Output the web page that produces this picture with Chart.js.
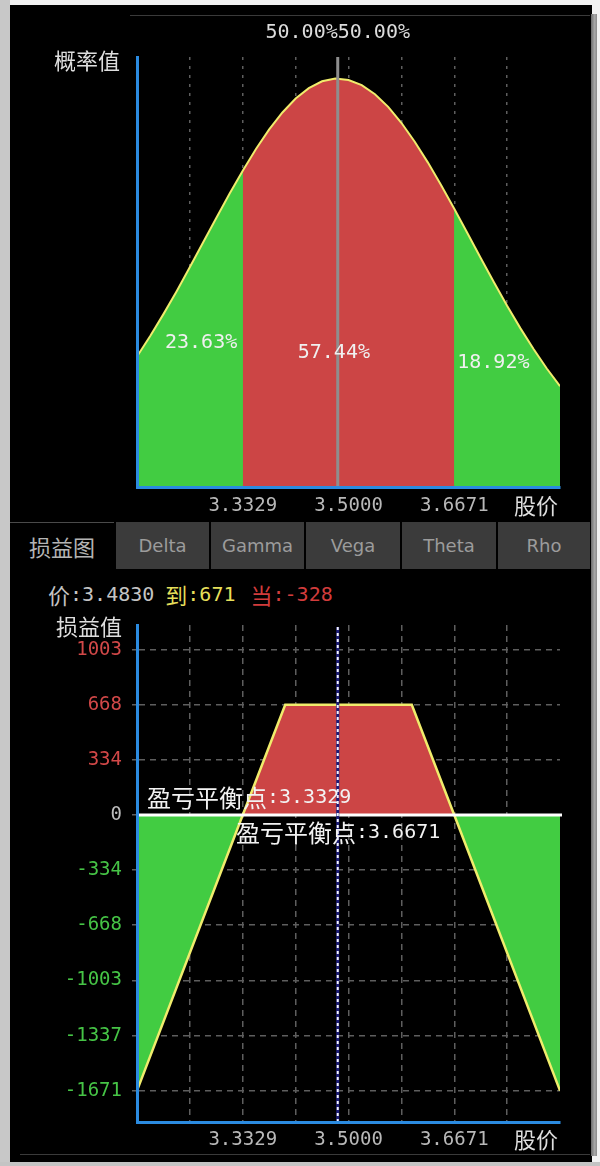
<!DOCTYPE html>
<html>
<head>
<meta charset="utf-8">
<script src="https://cdn.jsdelivr.net/npm/chart.js@4.4.1/dist/chart.umd.min.js"></script>
<style>
  html, body { margin: 0; padding: 0; background: #f2f2f2; }
  #page { position: relative; width: 600px; height: 1166px; overflow: hidden; background: #f2f2f2; }
  .abs { position: absolute; }
  #leftStrip { left: 0; top: 0; width: 10px; height: 1166px; background: #c8c8c8; }
  #bottomStrip { left: 0; top: 1162px; width: 600px; height: 4px; background: #c4c4c4; }
  #panel { left: 10px; top: 5px; width: 582px; height: 1157px; background: #000; }
  #rightBar { left: 591px; top: 14px; width: 6px; height: 1142px; background: linear-gradient(to right, #6c6c6c, #a8a8a8 60%, #8a8a8a); }
  #topLine { left: 130px; top: 15px; width: 460px; height: 1px; background: #3a3a3a; }
  #botLine { left: 20px; top: 1154px; width: 570px; height: 1px; background: #3a3a3a; }
  canvas { position: absolute; }
  #probChart { left: 10px; top: 5px; }
  #pnlChart { left: 10px; top: 600px; }
  .tab { position: absolute; top: 522px; height: 47px; line-height: 47px; text-align: center;
         background: #3b3b3b; color: #9c9c9c; font-family: "DejaVu Sans", sans-serif; font-size: 18px; }
  .tab.active { background: #000; color: #b4b4b4; font-family: "Noto Sans CJK SC", sans-serif; font-size: 22px; border-top: 1px solid #4a4a4a; height: 46px; line-height: 46px; }
  #info { left: 48px; top: 578px; height: 30px; line-height: 30px; white-space: nowrap; }
  #info span { display: inline-block; vertical-align: middle; }
  .cjk { font-family: "Noto Sans CJK SC", sans-serif; font-size: 22px; }
  .mono { font-family: "DejaVu Sans Mono", monospace; font-size: 20px; }
</style>
</head>
<body>
<div id="page">
  <div id="panel" class="abs"></div>
  <div id="leftStrip" class="abs"></div>
  <div id="bottomStrip" class="abs"></div>
  <div id="rightBar" class="abs"></div>
  <div id="topLine" class="abs"></div>
  <div id="botLine" class="abs"></div>
  <canvas id="probChart" width="582" height="515"></canvas>
  <div id="tabs"></div>
  <div id="info" class="abs"></div>
  <canvas id="pnlChart" width="582" height="560"></canvas>
</div>
<script>
// ---------------- data ----------------
const priceGrid = [3.1658, 3.2494, 3.3329, 3.4165, 3.5000, 3.5835, 3.6671, 3.7506, 3.8342];
const priceTickLabels = ['', '', '3.3329', '', '3.5000', '', '3.6671', '', ''];

const densityPrice = [3.1658, 3.1867, 3.2076, 3.2285, 3.2494, 3.2702, 3.2911, 3.3120, 3.3329,
  3.3538, 3.3747, 3.3956, 3.4165, 3.4373, 3.4582, 3.4791, 3.5000, 3.5209, 3.5418, 3.5627,
  3.5835, 3.6044, 3.6253, 3.6462, 3.6671, 3.6880, 3.7089, 3.7298, 3.7506, 3.7715, 3.7924,
  3.8133, 3.8342];
const densityValue = [0.607, 0.702, 0.804, 0.911, 1.023, 1.137, 1.251, 1.364, 1.471,
  1.572, 1.663, 1.742, 1.807, 1.855, 1.887, 1.900, 1.893, 1.869, 1.827, 1.768,
  1.694, 1.607, 1.510, 1.405, 1.294, 1.180, 1.065, 0.952, 0.843, 0.739, 0.642,
  0.551, 0.469];

const breakEvenLow = 3.3329;
const breakEvenHigh = 3.6671;
const currentPrice = 3.4830;
const zoneShares = ['23.63%', '57.44%', '18.92%'];
const sideShares = ['50.00%', '50.00%'];

const pnlPrice = [3.1658, 3.3329, 3.4000, 3.6000, 3.6671, 3.8342];
const pnlValue = [-1671, 0, 668, 668, 0, -1671];
const pnlTicks = [-1671, -1337, -1003, -668, -334, 0, 334, 668, 1003];
const pnlTickLabels = ['-1671', '-1337', '-1003', '-668', '-334', '0', '334', '668', '1003'];
const expiryPnl = 671;
const currentPnl = -328;

const tabNames = ['损益图', 'Delta', 'Gamma', 'Vega', 'Theta', 'Rho'];

// ---------------- styles ----------------
const GREEN = '#42cc42';
const RED = '#cc4545';
const YELLOW = '#f0ec6c';
const BLUE = '#2b8be0';
const GRID = '#5e5e5e';
const MONO = 'DejaVu Sans Mono';
const CJK = 'Noto Sans CJK SC';

// ---------------- HTML parts ----------------
const tabBoxes = [[10, 104], [116, 93], [211, 93], [306, 94], [402, 94], [498, 92]];
const tabsEl = document.getElementById('tabs');
tabNames.forEach((name, i) => {
  const d = document.createElement('div');
  d.className = 'tab' + (i === 0 ? ' active' : '');
  d.style.left = tabBoxes[i][0] + 'px';
  d.style.width = tabBoxes[i][1] + 'px';
  d.textContent = name;
  tabsEl.appendChild(d);
});
document.getElementById('info').innerHTML =
  '<span class="cjk" style="color:#c4c4c4">价</span><span class="mono" style="color:#c4c4c4">:' + currentPrice.toFixed(4) + '</span>' +
  '<span class="cjk" style="color:#e6df5a;margin-left:11px">到</span><span class="mono" style="color:#e6df5a">:' + expiryPnl + '</span>' +
  '<span class="cjk" style="color:#d23c3c;margin-left:15px">当</span><span class="mono" style="color:#d23c3c">:' + currentPnl + '</span>';

// ---------------- helpers ----------------
function drawMixed(ctx, parts, x, y, align) {
  let total = 0;
  parts.forEach(p => { ctx.font = p.font; p.w = ctx.measureText(p.text).width; total += p.w; });
  let cx = align === 'right' ? x - total : (align === 'center' ? x - total / 2 : x);
  ctx.textBaseline = 'middle';
  ctx.textAlign = 'left';
  parts.forEach(p => { ctx.font = p.font; ctx.fillStyle = p.color; ctx.fillText(p.text, cx, y); cx += p.w; });
}

const allPts = densityPrice.map((x, i) => ({ x, y: densityValue[i] }));
const midPts = allPts.filter(p => p.x >= breakEvenLow - 1e-9 && p.x <= breakEvenHigh + 1e-9);
const pnlPts = pnlPrice.map((x, i) => ({ x, y: pnlValue[i] }));

function xScaleOpts(dash, labelPad, height) {
  return {
    type: 'linear',
    min: priceGrid[0],
    max: priceGrid[priceGrid.length - 1],
    afterBuildTicks: s => { s.ticks = priceGrid.map(v => ({ value: v })); },
    afterFit: s => { s.height = height; },
    ticks: {
      autoSkip: false, maxRotation: 0, padding: labelPad, color: '#b8b8b8',
      font: { family: MONO, size: 19 },
      callback: (v, i) => priceTickLabels[i]
    },
    grid: {
      drawTicks: false,
      lineWidth: 1.5,
      color: c => (c.index === 0 || c.index === priceGrid.length - 1) ? 'rgba(0,0,0,0)' : GRID
    },
    border: { color: BLUE, width: 3, z: 1, dash: dash }
  };
}

// ---------------- probability chart ----------------
const topDecor = {
  id: 'topDecor',
  afterDatasetsDraw(chart) {
    const { ctx, chartArea: a, scales: { x, y } } = chart;
    const cx = x.getPixelForValue(currentPrice);
    ctx.save();
    ctx.strokeStyle = '#8e8e8e';
    ctx.lineWidth = 3;
    ctx.beginPath(); ctx.moveTo(cx, a.top); ctx.lineTo(cx, a.bottom); ctx.stroke();
    const f20 = '20px "' + MONO + '"';
    drawMixed(ctx, [{ text: sideShares[0] + sideShares[1], font: f20, color: '#dcdcdc' }], cx, 28, 'center');
    drawMixed(ctx, [{ text: zoneShares[0], font: f20, color: '#f0f0f0' }], a.left + 28, a.top + 286, 'left');
    drawMixed(ctx, [{ text: zoneShares[1], font: f20, color: '#f0f0f0' }], x.getPixelForValue(breakEvenLow) + 55, a.top + 296, 'left');
    drawMixed(ctx, [{ text: zoneShares[2], font: f20, color: '#f0f0f0' }], x.getPixelForValue(breakEvenHigh) + 3, a.top + 306, 'left');
    drawMixed(ctx, [{ text: '概率值', font: '22px "' + CJK + '"', color: '#dedede' }], a.left - 17, a.top + 4, 'right');
    drawMixed(ctx, [{ text: '股价', font: '22px "' + CJK + '"', color: '#dedede' }], a.right - 2, a.bottom + 19, 'right');
    ctx.restore();
  }
};

new Chart(document.getElementById('probChart'), {
  type: 'line',
  data: {
    datasets: [
      { data: allPts, borderColor: YELLOW, borderWidth: 2, fill: false, pointRadius: 0, tension: 0 },
      { data: midPts, borderColor: 'rgba(0,0,0,0)', borderWidth: 0, backgroundColor: RED, fill: 'origin', pointRadius: 0 },
      { data: allPts, borderColor: 'rgba(0,0,0,0)', borderWidth: 0, backgroundColor: GREEN, fill: 'origin', pointRadius: 0 }
    ]
  },
  options: {
    responsive: false,
    animation: false,
    devicePixelRatio: 1,
    layout: { padding: { top: 52, right: 32, left: 0, bottom: 0 } },
    plugins: { legend: { display: false }, tooltip: { enabled: false } },
    scales: {
      x: xScaleOpts([3, 6], 8, 33),
      y: {
        min: 0, max: 2,
        afterFit: s => { s.width = 127; },
        ticks: { display: false },
        grid: { display: false },
        border: { color: BLUE, width: 3, z: 1 }
      }
    }
  },
  plugins: [topDecor]
});

// ---------------- P&L chart ----------------
const bottomDecor = {
  id: 'bottomDecor',
  afterDatasetsDraw(chart) {
    const { ctx, chartArea: a, scales: { x, y } } = chart;
    ctx.save();
    const zy = y.getPixelForValue(0);
    ctx.strokeStyle = '#ffffff';
    ctx.lineWidth = 3;
    ctx.beginPath(); ctx.moveTo(a.left, zy); ctx.lineTo(a.right + 2, zy); ctx.stroke();

    const cx = x.getPixelForValue(currentPrice);
    ctx.strokeStyle = '#1c1c78';
    ctx.lineWidth = 3;
    ctx.beginPath(); ctx.moveTo(cx, a.top + 2); ctx.lineTo(cx, a.bottom); ctx.stroke();
    ctx.strokeStyle = '#f4f4ff';
    ctx.lineWidth = 2;
    ctx.setLineDash([3, 3]);
    ctx.beginPath(); ctx.moveTo(cx, a.top + 2); ctx.lineTo(cx, a.bottom); ctx.stroke();
    ctx.setLineDash([]);

    const fc = '24px "' + CJK + '"';
    const fm = '20px "' + MONO + '"';
    drawMixed(ctx, [
      { text: '盈亏平衡点', font: fc, color: '#f2f2f2' },
      { text: ':' + breakEvenLow.toFixed(4), font: fm, color: '#f2f2f2' }
    ], a.left + 10, zy - 17, 'left');
    drawMixed(ctx, [
      { text: '盈亏平衡点', font: fc, color: '#f2f2f2' },
      { text: ':' + breakEvenHigh.toFixed(4), font: fm, color: '#f2f2f2' }
    ], x.getPixelForValue(breakEvenHigh) - 14, zy + 18, 'right');

    drawMixed(ctx, [{ text: '损益值', font: '22px "' + CJK + '"', color: '#dedede' }], a.left - 15, a.top + 2, 'right');
    drawMixed(ctx, [{ text: '股价', font: '22px "' + CJK + '"', color: '#dedede' }], a.right - 2, a.bottom + 18, 'right');
    ctx.restore();
  }
};

new Chart(document.getElementById('pnlChart'), {
  type: 'line',
  data: {
    datasets: [
      {
        data: pnlPts, borderColor: YELLOW, borderWidth: 2.5, pointRadius: 0, tension: 0,
        fill: { target: 'origin', above: RED, below: GREEN }
      }
    ]
  },
  options: {
    responsive: false,
    animation: false,
    devicePixelRatio: 1,
    layout: { padding: { top: 25, right: 32, left: 0, bottom: 0 } },
    plugins: { legend: { display: false }, tooltip: { enabled: false } },
    scales: {
      x: xScaleOpts([6, 5], 7, 38),
      y: {
        min: -1861, max: 1152,
        afterBuildTicks: s => { s.ticks = pnlTicks.map(v => ({ value: v })); },
        afterFit: s => { s.width = 127; },
        ticks: {
          autoSkip: false, padding: 10,
          font: { family: MONO, size: 19 },
          color: c => c.tick.value > 0 ? '#d24848' : (c.tick.value < 0 ? '#46c446' : '#bdbdbd'),
          callback: (v, i) => pnlTickLabels[i]
        },
        grid: {
          lineWidth: 1.5,
          tickLength: 5,
          tickColor: GRID,
          color: c => (c.tick && c.tick.value === 0) ? 'rgba(0,0,0,0)' : GRID
        },
        border: { color: BLUE, width: 3, z: 1, dash: [6, 5] }
      }
    }
  },
  plugins: [bottomDecor]
});
</script>
</body>
</html>
